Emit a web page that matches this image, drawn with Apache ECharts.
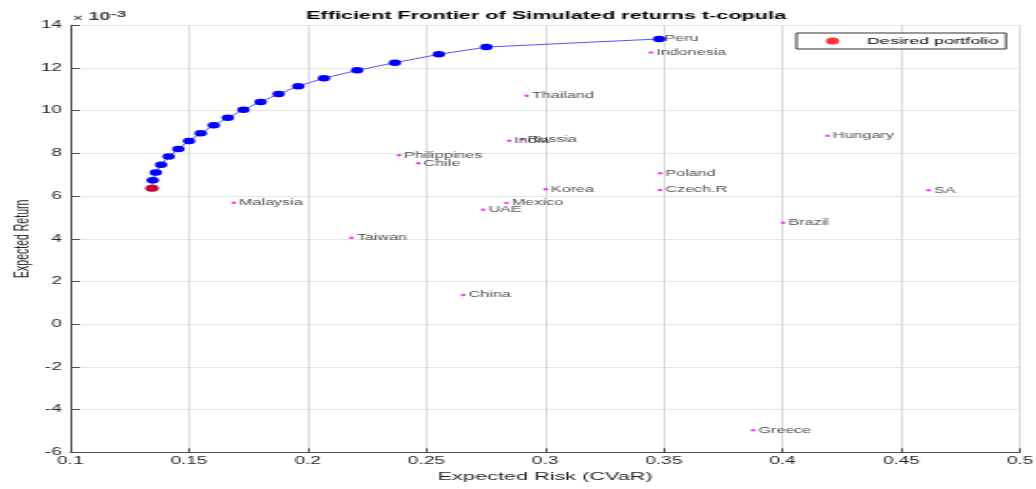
<!DOCTYPE html>
<html>
<head>
<meta charset="utf-8">
<script src="https://cdn.jsdelivr.net/npm/echarts@6/dist/echarts.min.js"></script>
<style>
html,body{margin:0;padding:0;overflow:hidden;background:#fff;width:1036px;height:489px;}
#wrap{width:1036px;height:489px;overflow:hidden;}
#chart{width:545px;height:489px;transform:scaleX(1.9009);transform-origin:0 0;}
</style>
</head>
<body>
<div id="wrap"><div id="chart"></div></div>
<script>
// Efficient frontier (risk = CVaR, return in units of 1e-3)
const frontierRisk = [0.1344, 0.1347, 0.1360, 0.1382, 0.1414, 0.1455, 0.1500, 0.1549, 0.1604, 0.1663, 0.1729, 0.1801, 0.1877, 0.1960, 0.2068, 0.2208, 0.2367, 0.2552, 0.2752, 0.3480];
const frontierReturn = [6.37, 6.74, 7.11, 7.47, 7.85, 8.21, 8.58, 8.94, 9.32, 9.67, 10.05, 10.41, 10.78, 11.15, 11.52, 11.89, 12.25, 12.64, 12.98, 13.36];
const desiredRisk = [0.1344];
const desiredReturn = [6.37];
// Individual markets
const countryNames = ['Peru','Indonesia','Thailand','Russia','India','Hungary','Philippines','Chile','Poland','Korea','Czech.R','SA','Mexico','Malaysia','UAE','Brazil','Taiwan','China','Greece'];
const countryRisk = [0.3480,0.3445,0.2922,0.2904,0.2848,0.4189,0.2384,0.2466,0.3484,0.3002,0.3484,0.4615,0.2837,0.1688,0.2739,0.4002,0.2184,0.2655,0.3876];
const countryReturn = [13.36,12.73,10.70,8.66,8.59,8.83,7.91,7.54,7.07,6.32,6.29,6.27,5.68,5.69,5.36,4.75,4.05,1.37,-4.97];
const xTicks = {min: 0.1, max: 0.5, interval: 0.05};
const yTicks = {min: -6, max: 14, interval: 2};

const FONT = 'Liberation Sans, Arial, sans-serif';
const TXT = '#262626';
const chart = echarts.init(document.getElementById('chart'), null, {renderer: 'canvas'});
chart.setOption({
  animation: false,
  backgroundColor: '#fff',
  title: [{
    text: 'Efficient Frontier of Simulated returns t-copula',
    left: 161, top: 10, padding: 0,
    textStyle: {fontFamily: FONT, fontSize: 11.4, fontWeight: 'bold', color: '#000'}
  }, {
    text: '{a|×}{c|10}{b|-3}',
    left: 38.5, top: 9, padding: 0,
    textStyle: {
      fontFamily: FONT, color: TXT,
      rich: {
        a: {fontFamily: FONT, fontSize: 8.5, color: '#505050', verticalAlign: 'bottom', lineHeight: 14, padding: [0, 3, 0, 0]},
        c: {fontFamily: FONT, fontSize: 10.5, color: '#404040', verticalAlign: 'bottom', lineHeight: 14},
        b: {fontFamily: FONT, fontSize: 9.5, color: '#404040', verticalAlign: 'top', lineHeight: 14}
      }
    }
  }],
  legend: {
    data: ['Desired portfolio'],
    left: 419, top: 33,
    padding: [3, 4, 3, 15.5],
    borderColor: '#333', borderWidth: 1, backgroundColor: '#fff',
    itemWidth: 7, itemHeight: 7,
    icon: 'circle',
    textStyle: {fontFamily: FONT, fontSize: 9.5, color: '#000', padding: [0, 0, 0, 9.5]}
  },
  grid: {left: 37, right: 8.4, top: 25.3, bottom: 36.7, containLabel: false, outerBoundsMode: 'none'},
  xAxis: {
    type: 'value', min: xTicks.min, max: xTicks.max, interval: xTicks.interval,
    name: 'Expected Risk (CVaR)', nameLocation: 'middle', nameGap: 16,
    nameTextStyle: {fontFamily: FONT, fontSize: 11.4, color: TXT},
    axisLine: {show: true, onZero: false, lineStyle: {color: '#4d4d4d', width: 1}},
    axisTick: {show: true, inside: true, length: 4, lineStyle: {color: '#4d4d4d'}},
    axisLabel: {fontFamily: FONT, fontSize: 10, color: TXT, margin: 4},
    splitLine: {show: true, lineStyle: {color: '#d9d9d9', width: 1}}
  },
  yAxis: {
    type: 'value', min: yTicks.min, max: yTicks.max, interval: yTicks.interval,
    name: 'Expected Return', nameLocation: 'middle', nameGap: 19, nameMoveOverlap: false,
    nameTextStyle: {fontFamily: FONT, fontSize: 10.5, color: TXT},
    axisLine: {show: true, onZero: false, lineStyle: {color: '#4d4d4d', width: 1}},
    axisTick: {show: true, inside: true, length: 5, lineStyle: {color: '#4d4d4d'}},
    axisLabel: {fontFamily: FONT, fontSize: 10, color: TXT, margin: 4.5},
    splitLine: {show: true, lineStyle: {color: '#e6e6e6', width: 1}}
  },
  series: [{
    name: 'Markets',
    type: 'scatter',
    symbol: 'circle', symbolSize: 2.5,
    itemStyle: {color: '#ff00ff'},
    data: countryNames.map((n, i) => ({name: n, value: [countryRisk[i], countryReturn[i]]})),
    label: {
      show: true, position: 'right', distance: 1.5,
      formatter: p => p.name,
      fontFamily: FONT, fontSize: 8.5, color: '#1a1a1a'
    },
    z: 2
  }, {
    name: 'Frontier',
    type: 'line',
    symbol: 'circle', symbolSize: 6.5, showAllSymbol: true,
    itemStyle: {color: '#0000ff'},
    lineStyle: {color: '#2a2aff', width: 0.8},
    data: frontierRisk.map((x, i) => [x, frontierReturn[i]]),
    z: 3
  }, {
    name: 'Desired portfolio',
    type: 'scatter',
    symbol: 'circle', symbolSize: 7,
    itemStyle: {color: '#ff0000'},
    data: desiredRisk.map((x, i) => [x, desiredReturn[i]]),
    z: 4
  }]
});
</script>
</body>
</html>
